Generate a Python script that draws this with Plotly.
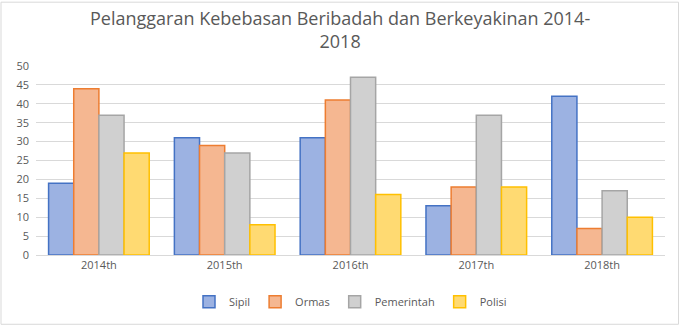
import plotly.graph_objects as go

years = ["2014th", "2015th", "2016th", "2017th", "2018th"]
sipil = [19, 31, 31, 13, 42]
ormas = [44, 29, 41, 18, 7]
pemerintah = [37, 27, 47, 37, 17]
polisi = [27, 8, 16, 18, 10]

series = [
    ("Sipil", sipil, "#9cb2e2", "#4472c4"),
    ("Ormas", ormas, "#f5b791", "#ed7d31"),
    ("Pemerintah", pemerintah, "#d0d0d0", "#a5a5a5"),
    ("Polisi", polisi, "#ffda72", "#ffc000"),
]

W, H = 680, 328
ml, mr, mt, mb = 36, 15, 66, 71
pw = W - ml - mr
ph = H - mt - mb

fig = go.Figure()
for name, vals, fill, line in series:
    fig.add_trace(go.Bar(
        name=name, x=years, y=vals,
        marker=dict(color=fill, line=dict(color=line, width=1.5)),
    ))

# light chart-area frame
fig.add_shape(
    type="rect", xref="paper", yref="paper",
    x0=(-ml + 1) / pw, x1=1 + (mr - 1.5) / pw,
    y0=(-mb + 1) / ph, y1=1 + (mt - 1.5) / ph,
    line=dict(color="#d9d9d9", width=1), layer="below",
)

# two-line chart title
fig.add_annotation(
    text="Pelanggaran Kebebasan Beribadah dan Berkeyakinan 2014-<br>2018",
    xref="paper", yref="paper", x=(W / 2 - ml) / pw, y=1 + (mt - 3) / ph,
    xanchor="center", yanchor="top", showarrow=False, align="center",
    font=dict(size=18, color="#595959"),
)

fig.update_layout(
    width=W, height=H,
    margin=dict(l=ml, r=mr, t=mt, b=mb),
    paper_bgcolor="white", plot_bgcolor="white",
    font=dict(family="Open Sans, sans-serif", color="#595959", size=11),
    barmode="group", bargap=0.2, bargroupgap=0,
    showlegend=True,
    legend=dict(
        orientation="h", x=0.5, xanchor="center", y=-0.17, yanchor="top",
        font=dict(size=11, color="#595959"), itemwidth=30,
    ),
    xaxis=dict(showgrid=False, showline=True, linecolor="#d9d9d9", linewidth=1,
               ticks="", tickfont=dict(size=11, color="#595959")),
    yaxis=dict(range=[0, 50], dtick=5, showgrid=True, gridcolor="#d9d9d9",
               gridwidth=1, zeroline=False, showline=False, ticks="",
               tickfont=dict(size=11, color="#595959"), ticklabelstandoff=6),
)

fig.write_html("out.html")
